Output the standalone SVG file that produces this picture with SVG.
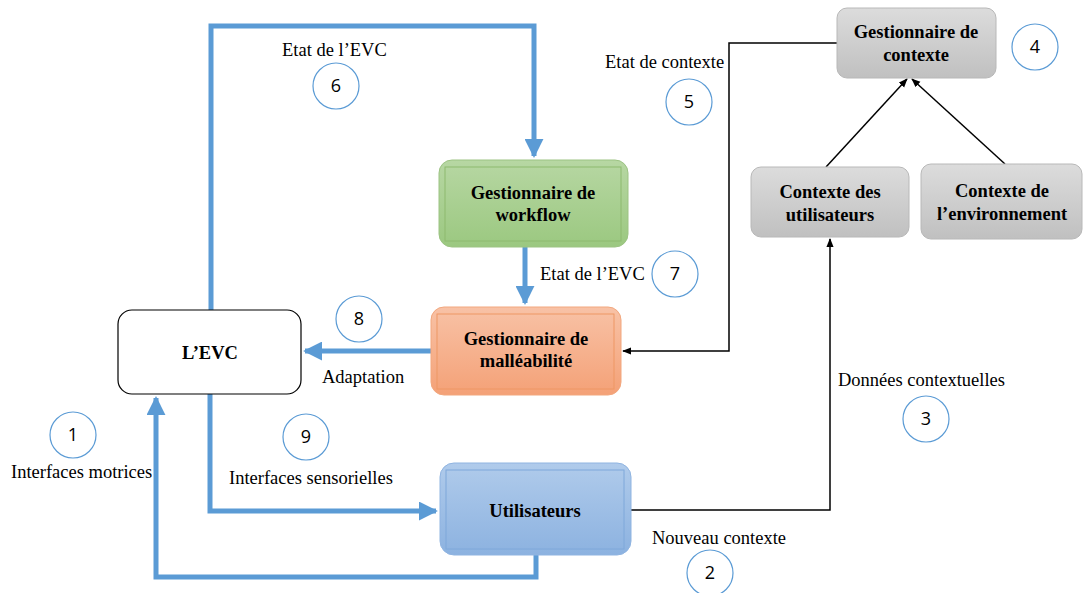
<svg xmlns="http://www.w3.org/2000/svg" width="1083" height="593" viewBox="0 0 1083 593">
  <defs>
    <linearGradient id="gGreen" x1="0" y1="0" x2="0" y2="1">
      <stop offset="0" stop-color="#B7D7A3"/>
      <stop offset="1" stop-color="#9BC880"/>
    </linearGradient>
    <linearGradient id="gOrange" x1="0" y1="0" x2="0" y2="1">
      <stop offset="0" stop-color="#F8C2A6"/>
      <stop offset="1" stop-color="#F4A177"/>
    </linearGradient>
    <linearGradient id="gBlue" x1="0" y1="0" x2="0" y2="1">
      <stop offset="0" stop-color="#B0CBEB"/>
      <stop offset="1" stop-color="#8CB2E0"/>
    </linearGradient>
    <linearGradient id="gGray" x1="0" y1="0" x2="0" y2="1">
      <stop offset="0" stop-color="#DCDCDC"/>
      <stop offset="1" stop-color="#C0C0C0"/>
    </linearGradient>
    <marker id="blueHead" viewBox="0 0 10 10" refX="9" refY="5" markerWidth="3.8" markerHeight="3.8" markerUnits="strokeWidth" orient="auto">
      <path d="M0,0 L10,5 L0,10 z" fill="#5B9BD5"/>
    </marker>
    <marker id="blackHead" viewBox="0 0 10 10" refX="9" refY="5" markerWidth="6" markerHeight="6" markerUnits="strokeWidth" orient="auto">
      <path d="M0,1 L10,5 L0,9 z" fill="#000"/>
    </marker>
  </defs>
  <style>
    .blue { fill: none; stroke: #5B9BD5; stroke-width: 5; }
    .black { fill: none; stroke: #000; stroke-width: 1.5; }
    .num { fill: #fff; stroke: #5B9BD5; stroke-width: 1.2; }
    .numt { font-family: "Open Sans", "Liberation Sans", sans-serif; font-size: 18px; fill: #000; text-anchor: middle; }
    .lbl { font-family: "Liberation Serif", serif; font-size: 18.5px; fill: #000; }
    .bold { font-family: "Liberation Serif", serif; font-size: 18.5px; font-weight: bold; fill: #000; text-anchor: middle; }
  </style>
  <rect width="1083" height="593" fill="#fff"/>

  <!-- connectors -->
  <g id="connectors">
    <path class="blue" d="M211,310 V26 H534 V156" marker-end="url(#blueHead)"/>
    <path class="blue" d="M525,247 V303" marker-end="url(#blueHead)"/>
    <path class="blue" d="M431,351 H305" marker-end="url(#blueHead)"/>
    <path class="blue" d="M210,394 V511 H436" marker-end="url(#blueHead)"/>
    <path class="blue" d="M536,555 V577 H156 V398" marker-end="url(#blueHead)"/>
    <path class="black" d="M837,43 H729 V351 H623" marker-end="url(#blackHead)"/>
    <path class="black" d="M631,510 H830 V239" marker-end="url(#blackHead)"/>
    <path class="black" d="M826,167 L907,79" marker-end="url(#blackHead)"/>
    <path class="black" d="M1005,164 L912,79" marker-end="url(#blackHead)"/>
  </g>

  <!-- nodes -->
  <g id="evc">
    <rect x="118" y="310" width="183" height="84" rx="14" fill="#fff" stroke="#000" stroke-width="1.2"/>
    <text class="bold" x="210" y="359">L’EVC</text>
  </g>
  <g id="workflow">
    <rect x="439" y="160" width="189" height="87" rx="13" fill="url(#gGreen)" stroke="#9CC383" stroke-width="1"/>
    <rect x="445" y="167" width="176" height="74" fill="none" stroke="#8DBA6E" stroke-width="1"/>
    <text class="bold" x="533" y="199">Gestionnaire de</text>
    <text class="bold" x="533" y="221">workflow</text>
  </g>
  <g id="malleabilite">
    <rect x="431" y="307" width="190" height="88" rx="13" fill="url(#gOrange)" stroke="#F2A77E" stroke-width="1"/>
    <rect x="437" y="314" width="177" height="75" fill="none" stroke="#EE9765" stroke-width="1"/>
    <text class="bold" x="526" y="345">Gestionnaire de</text>
    <text class="bold" x="526" y="367">malléabilité</text>
  </g>
  <g id="utilisateurs">
    <rect x="440" y="463" width="191" height="92" rx="14" fill="url(#gBlue)" stroke="#8FB4E1" stroke-width="1"/>
    <rect x="446" y="470" width="178" height="79" fill="none" stroke="#7FA8DA" stroke-width="1"/>
    <text class="bold" x="535" y="517">Utilisateurs</text>
  </g>
  <g id="gestionnaire-contexte">
    <rect x="837" y="8" width="159" height="70" rx="10" fill="url(#gGray)" stroke="#B8B8B8" stroke-width="1"/>
    <text class="bold" x="916" y="38">Gestionnaire de</text>
    <text class="bold" x="916" y="61">contexte</text>
  </g>
  <g id="contexte-utilisateurs">
    <rect x="751" y="167" width="158" height="70" rx="10" fill="url(#gGray)" stroke="#B8B8B8" stroke-width="1"/>
    <text class="bold" x="830" y="198">Contexte des</text>
    <text class="bold" x="830" y="221">utilisateurs</text>
  </g>
  <g id="contexte-environnement">
    <rect x="921" y="164" width="161" height="75" rx="10" fill="url(#gGray)" stroke="#B8B8B8" stroke-width="1"/>
    <text class="bold" x="1002" y="197">Contexte de</text>
    <text class="bold" x="1002" y="220">l’environnement</text>
  </g>

  <!-- labels -->
  <g id="labels">
    <text class="lbl" x="282" y="56">Etat de l’EVC</text>
    <text class="lbl" x="605" y="68">Etat de contexte</text>
    <text class="lbl" x="540" y="280">Etat de l’EVC</text>
    <text class="lbl" x="322" y="383">Adaptation</text>
    <text class="lbl" x="229" y="484">Interfaces sensorielles</text>
    <text class="lbl" x="11" y="478">Interfaces motrices</text>
    <text class="lbl" x="652" y="544">Nouveau contexte</text>
    <text class="lbl" x="838" y="386">Données contextuelles</text>
  </g>

  <!-- step numbers -->
  <g id="steps">
    <circle class="num" cx="73" cy="435" r="23"/><text class="numt" x="73" y="441">1</text>
    <circle class="num" cx="710" cy="573" r="23"/><text class="numt" x="710" y="579">2</text>
    <circle class="num" cx="926" cy="419" r="23"/><text class="numt" x="926" y="425">3</text>
    <circle class="num" cx="1035" cy="47" r="23"/><text class="numt" x="1035" y="53">4</text>
    <circle class="num" cx="689" cy="102" r="23"/><text class="numt" x="689" y="108">5</text>
    <circle class="num" cx="336" cy="86" r="23"/><text class="numt" x="336" y="92">6</text>
    <circle class="num" cx="675" cy="274" r="23"/><text class="numt" x="675" y="280">7</text>
    <circle class="num" cx="359" cy="319" r="23"/><text class="numt" x="359" y="325">8</text>
    <circle class="num" cx="306" cy="437" r="23"/><text class="numt" x="306" y="443">9</text>
  </g>
</svg>
